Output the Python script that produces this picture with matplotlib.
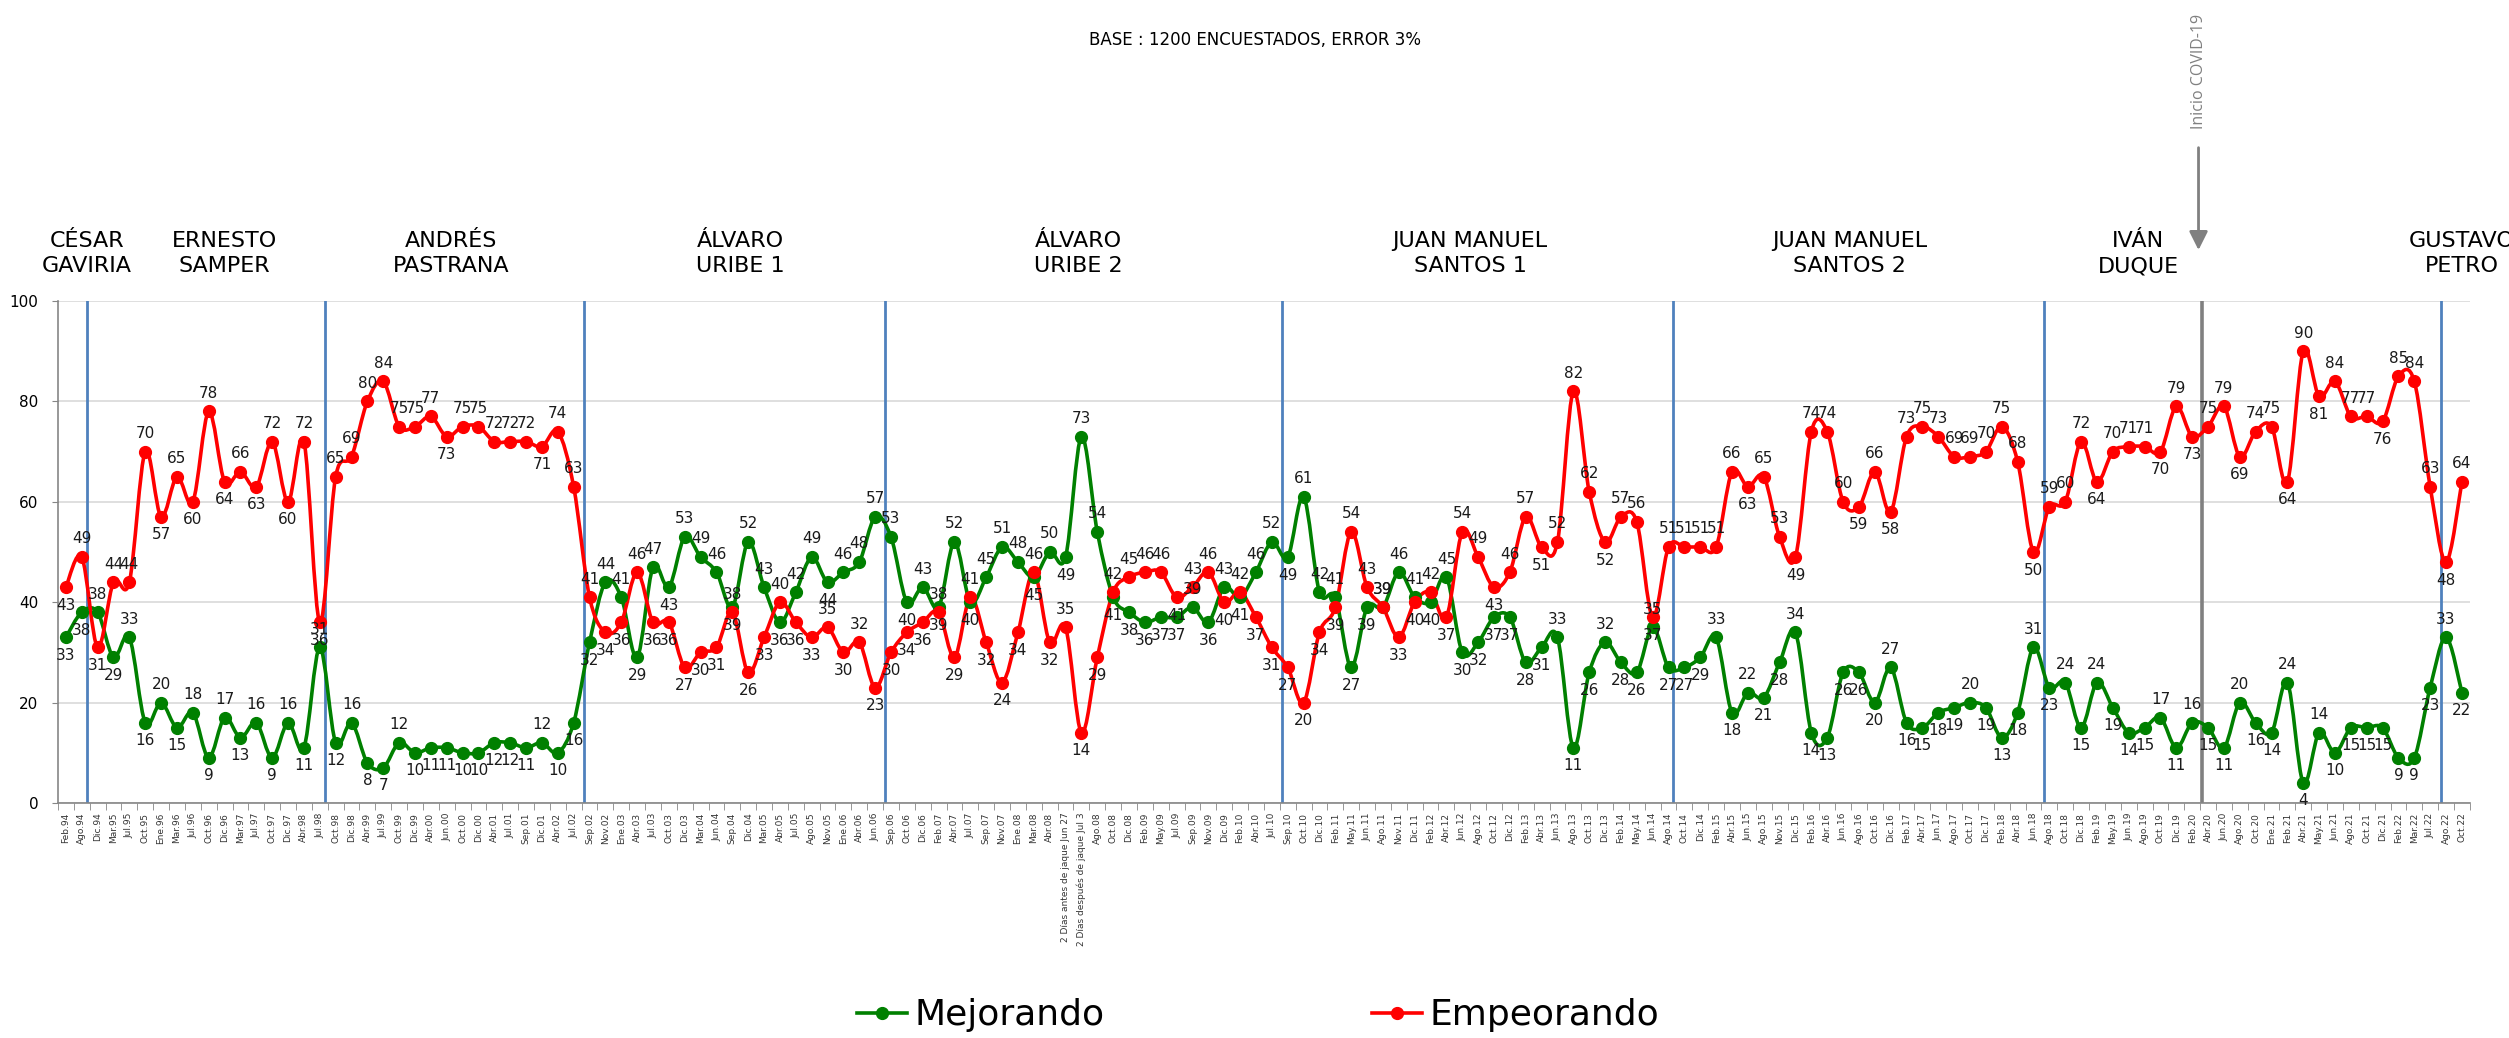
import numpy as np
import matplotlib
matplotlib.use("Agg")
import matplotlib.pyplot as plt
from matplotlib.path import Path
from matplotlib.patches import PathPatch
from matplotlib.lines import Line2D

fechas = [
    "Feb.94", "Ago.94", "Dic.94", "Mar.95", "Jul.95", "Oct.95", "Ene.96", "Mar.96", "Jul.96", "Oct.96",
    "Dic.96", "Mar.97", "Jul.97", "Oct.97", "Dic.97", "Abr.98", "Jul.98", "Oct.98", "Dic.98", "Abr.99",
    "Jul.99", "Oct.99", "Dic.99", "Abr.00", "Jun.00", "Oct.00", "Dic.00", "Abr.01", "Jul.01", "Sep.01",
    "Dic.01", "Abr.02", "Jul.02", "Sep.02", "Nov.02", "Ene.03", "Abr.03", "Jul.03", "Oct.03", "Dic.03",
    "Mar.04", "Jun.04", "Sep.04", "Dic.04", "Mar.05", "Abr.05", "Jul.05", "Ago.05", "Nov.05", "Ene.06",
    "Abr.06", "Jun.06", "Sep.06", "Oct.06", "Dic.06", "Feb.07", "Abr.07", "Jul.07", "Sep.07", "Nov.07",
    "Ene.08", "Mar.08", "Abr.08", "2 Días antes de jaque Jun 27", "2 Días después de jaque Jul 3",
    "Ago.08", "Oct.08", "Dic.08", "Feb.09", "May.09", "Jul.09", "Sep.09", "Nov.09", "Dic.09", "Feb.10",
    "Abr.10", "Jul.10", "Sep.10", "Oct.10", "Dic.10", "Feb.11", "May.11", "Jun.11", "Ago.11", "Nov.11",
    "Dic.11", "Feb.12", "Abr.12", "Jun.12", "Ago.12", "Oct.12", "Dic.12", "Feb.13", "Abr.13", "Jun.13",
    "Ago.13", "Oct.13", "Dic.13", "Feb.14", "May.14", "Jun.14", "Ago.14", "Oct.14", "Dic.14", "Feb.15",
    "Abr.15", "Jun.15", "Ago.15", "Nov.15", "Dic.15", "Feb.16", "Abr.16", "Jun.16", "Ago.16", "Oct.16",
    "Dic.16", "Feb.17", "Abr.17", "Jun.17", "Ago.17", "Oct.17", "Dic.17", "Feb.18", "Abr.18", "Jun.18",
    "Ago.18", "Oct.18", "Dic.18", "Feb.19", "May.19", "Jun.19", "Ago.19", "Oct.19", "Dic.19", "Feb.20",
    "Abr.20", "Jun.20", "Ago.20", "Oct.20", "Ene.21", "Feb.21", "Abr.21", "May.21", "Jun.21", "Ago.21",
    "Oct.21", "Dic.21", "Feb.22", "Mar.22", "Jul.22", "Ago.22", "Oct.22",
]

mejorando = [
    33, 38, 38, 29, 33, 16, 20, 15, 18, 9,
    17, 13, 16, 9, 16, 11, 31, 12, 16, 8,
    7, 12, 10, 11, 11, 10, 10, 12, 12, 11,
    12, 10, 16, 32, 44, 41, 29, 47, 43, 53,
    49, 46, 39, 52, 43, 36, 42, 49, 44, 46,
    48, 57, 53, 40, 43, 39, 52, 40, 45, 51,
    48, 45, 50, 49, 73,
    54, 41, 38, 36, 37, 37, 39, 36, 43, 41,
    46, 52, 49, 61, 42, 41, 27, 39, 39, 46,
    41, 40, 45, 30, 32, 37, 37, 28, 31, 33,
    11, 26, 32, 28, 26, 35, 27, 27, 29, 33,
    18, 22, 21, 28, 34, 14, 13, 26, 26, 20,
    27, 16, 15, 18, 19, 20, 19, 13, 18, 31,
    23, 24, 15, 24, 19, 14, 15, 17, 11, 16,
    15, 11, 20, 16, 14, 24, 4, 14, 10, 15,
    15, 15, 9, 9, 23, 33, 22,
]

empeorando = [
    43, 49, 31, 44, 44, 70, 57, 65, 60, 78,
    64, 66, 63, 72, 60, 72, 36, 65, 69, 80,
    84, 75, 75, 77, 73, 75, 75, 72, 72, 72,
    71, 74, 63, 41, 34, 36, 46, 36, 36, 27,
    30, 31, 38, 26, 33, 40, 36, 33, 35, 30,
    32, 23, 30, 34, 36, 38, 29, 41, 32, 24,
    34, 46, 32, 35, 14,
    29, 42, 45, 46, 46, 41, 43, 46, 40, 42,
    37, 31, 27, 20, 34, 39, 54, 43, 39, 33,
    40, 42, 37, 54, 49, 43, 46, 57, 51, 52,
    82, 62, 52, 57, 56, 37, 51, 51, 51, 51,
    66, 63, 65, 53, 49, 74, 74, 60, 59, 66,
    58, 73, 75, 73, 69, 69, 70, 75, 68, 50,
    59, 60, 72, 64, 70, 71, 71, 70, 79, 73,
    75, 79, 69, 74, 75, 64, 90, 81, 84, 77,
    77, 76, 85, 84, 63, 48, 64,
]

presidentes = [
    "CÉSAR\nGAVIRIA", "ERNESTO\nSAMPER", "ANDRÉS\nPASTRANA", "ÁLVARO\nURIBE 1", "ÁLVARO\nURIBE 2",
    "JUAN MANUEL\nSANTOS 1", "JUAN MANUEL\nSANTOS 2", "IVÁN\nDUQUE", "GUSTAVO\nPETRO",
]

VERDE = "#008000"
ROJO = "#FF0000"
AZUL = "#4F81BD"
GRIS = "#868686"


def curva_suave(x, y):
    """Bezier path through the points, like Excel's 'smoothed line'."""
    pts = np.column_stack([x, y]).astype(float)
    n = len(pts)
    verts, codes = [pts[0]], [Path.MOVETO]
    for i in range(n - 1):
        p0, p1 = pts[max(i - 1, 0)], pts[i]
        p2, p3 = pts[i + 1], pts[min(i + 2, n - 1)]
        verts += [p1 + (p2 - p0) / 6, p2 - (p3 - p1) / 6, p2]
        codes += [Path.CURVE4] * 3
    return Path(verts, codes)


fig = plt.figure(figsize=(25.09, 10.38), dpi=100)
ax = fig.add_axes([0.0231, 0.2264, 0.9613, 0.4836])

x = np.arange(len(fechas))
n = len(fechas)

# term separators (blue) and covid line (grey)
for xv in (1.3, 16.3, 32.65, 51.65, 76.65, 101.25, 124.65, 149.65):
    ax.axvline(xv, color=AZUL, lw=2.0, zorder=2)
ax.axvline(134.65, color="#808080", lw=2.6, zorder=2)

for serie, color, otra in ((mejorando, VERDE, empeorando), (empeorando, ROJO, mejorando)):
    ax.add_patch(PathPatch(curva_suave(x, serie), facecolor="none", edgecolor=color,
                           lw=2.6, joinstyle="round", capstyle="round", zorder=3))
    ax.plot(x, serie, "o", color=color, ms=8.5, zorder=4)
    for i, v in enumerate(serie):
        vecinos = [serie[j] for j in (i - 1, i + 1) if 0 <= j < n]
        if v > max(vecinos):
            arriba = True
        elif v < min(vecinos):
            arriba = False
        else:
            arriba = v >= otra[i]
        ax.annotate(str(v), (i, v), xytext=(0, 13 if arriba else -13), textcoords="offset points",
                    ha="center", va="center", fontsize=11, color="#1a1a1a", zorder=5)

ax.set_xlim(-0.5, n - 0.5)
ax.set_ylim(0, 100)
ax.set_xticks(x)
ax.set_xticklabels(fechas, rotation=90, fontsize=6.5, color="#333333")
ax.set_xticks(np.arange(-0.5, n, 1), minor=True)
ax.tick_params(axis="x", which="major", length=0, pad=7)
ax.tick_params(axis="x", which="minor", length=5, color=GRIS)
ax.set_yticks(range(0, 101, 20))
ax.tick_params(axis="y", length=4, color=GRIS, labelsize=11, pad=10)
ax.yaxis.grid(True, color="#D9D9D9", lw=1.2)
ax.set_axisbelow(True)
for lado in ("top", "right"):
    ax.spines[lado].set_visible(False)
for lado in ("left", "bottom"):
    ax.spines[lado].set_color(GRIS)
    ax.spines[lado].set_linewidth(1.2)

# president names above each term
trans = ax.get_xaxis_transform()
for nombre, xp in zip(presidentes, (1.33, 10.0, 24.3, 42.5, 63.8, 88.5, 112.4, 130.6, 151.0)):
    ax.text(xp, 1.094, nombre, transform=trans, ha="center", va="center", fontsize=16,
            linespacing=1.3, clip_on=False)

# covid marker
ax.annotate("", xy=(134.4, 1.096), xytext=(134.4, 1.311), xycoords=trans, textcoords=trans,
            arrowprops=dict(arrowstyle="-|>", color="#808080", lw=2, mutation_scale=28))
ax.text(134.4, 1.458, "Inicio COVID-19", transform=trans, rotation=90, ha="center", va="center",
        fontsize=11.5, color="#808080", family=["Open Sans", "DejaVu Sans"])

fig.text(1255 / 2509, 1 - 40 / 1038, "BASE : 1200 ENCUESTADOS, ERROR 3%", ha="center", va="center",
         fontsize=12)

handles = [Line2D([], [], color=VERDE, lw=2.6, marker="o", ms=8.5),
           Line2D([], [], color=ROJO, lw=2.6, marker="o", ms=8.5)]
fig.legend(handles, ["Mejorando", "Empeorando"], loc="center", bbox_to_anchor=(1258 / 2509, 0.022),
           ncol=2, frameon=False, fontsize=26, handlelength=1.4, handletextpad=0.2, columnspacing=7.4)

fig.savefig("out.png", dpi=100)
